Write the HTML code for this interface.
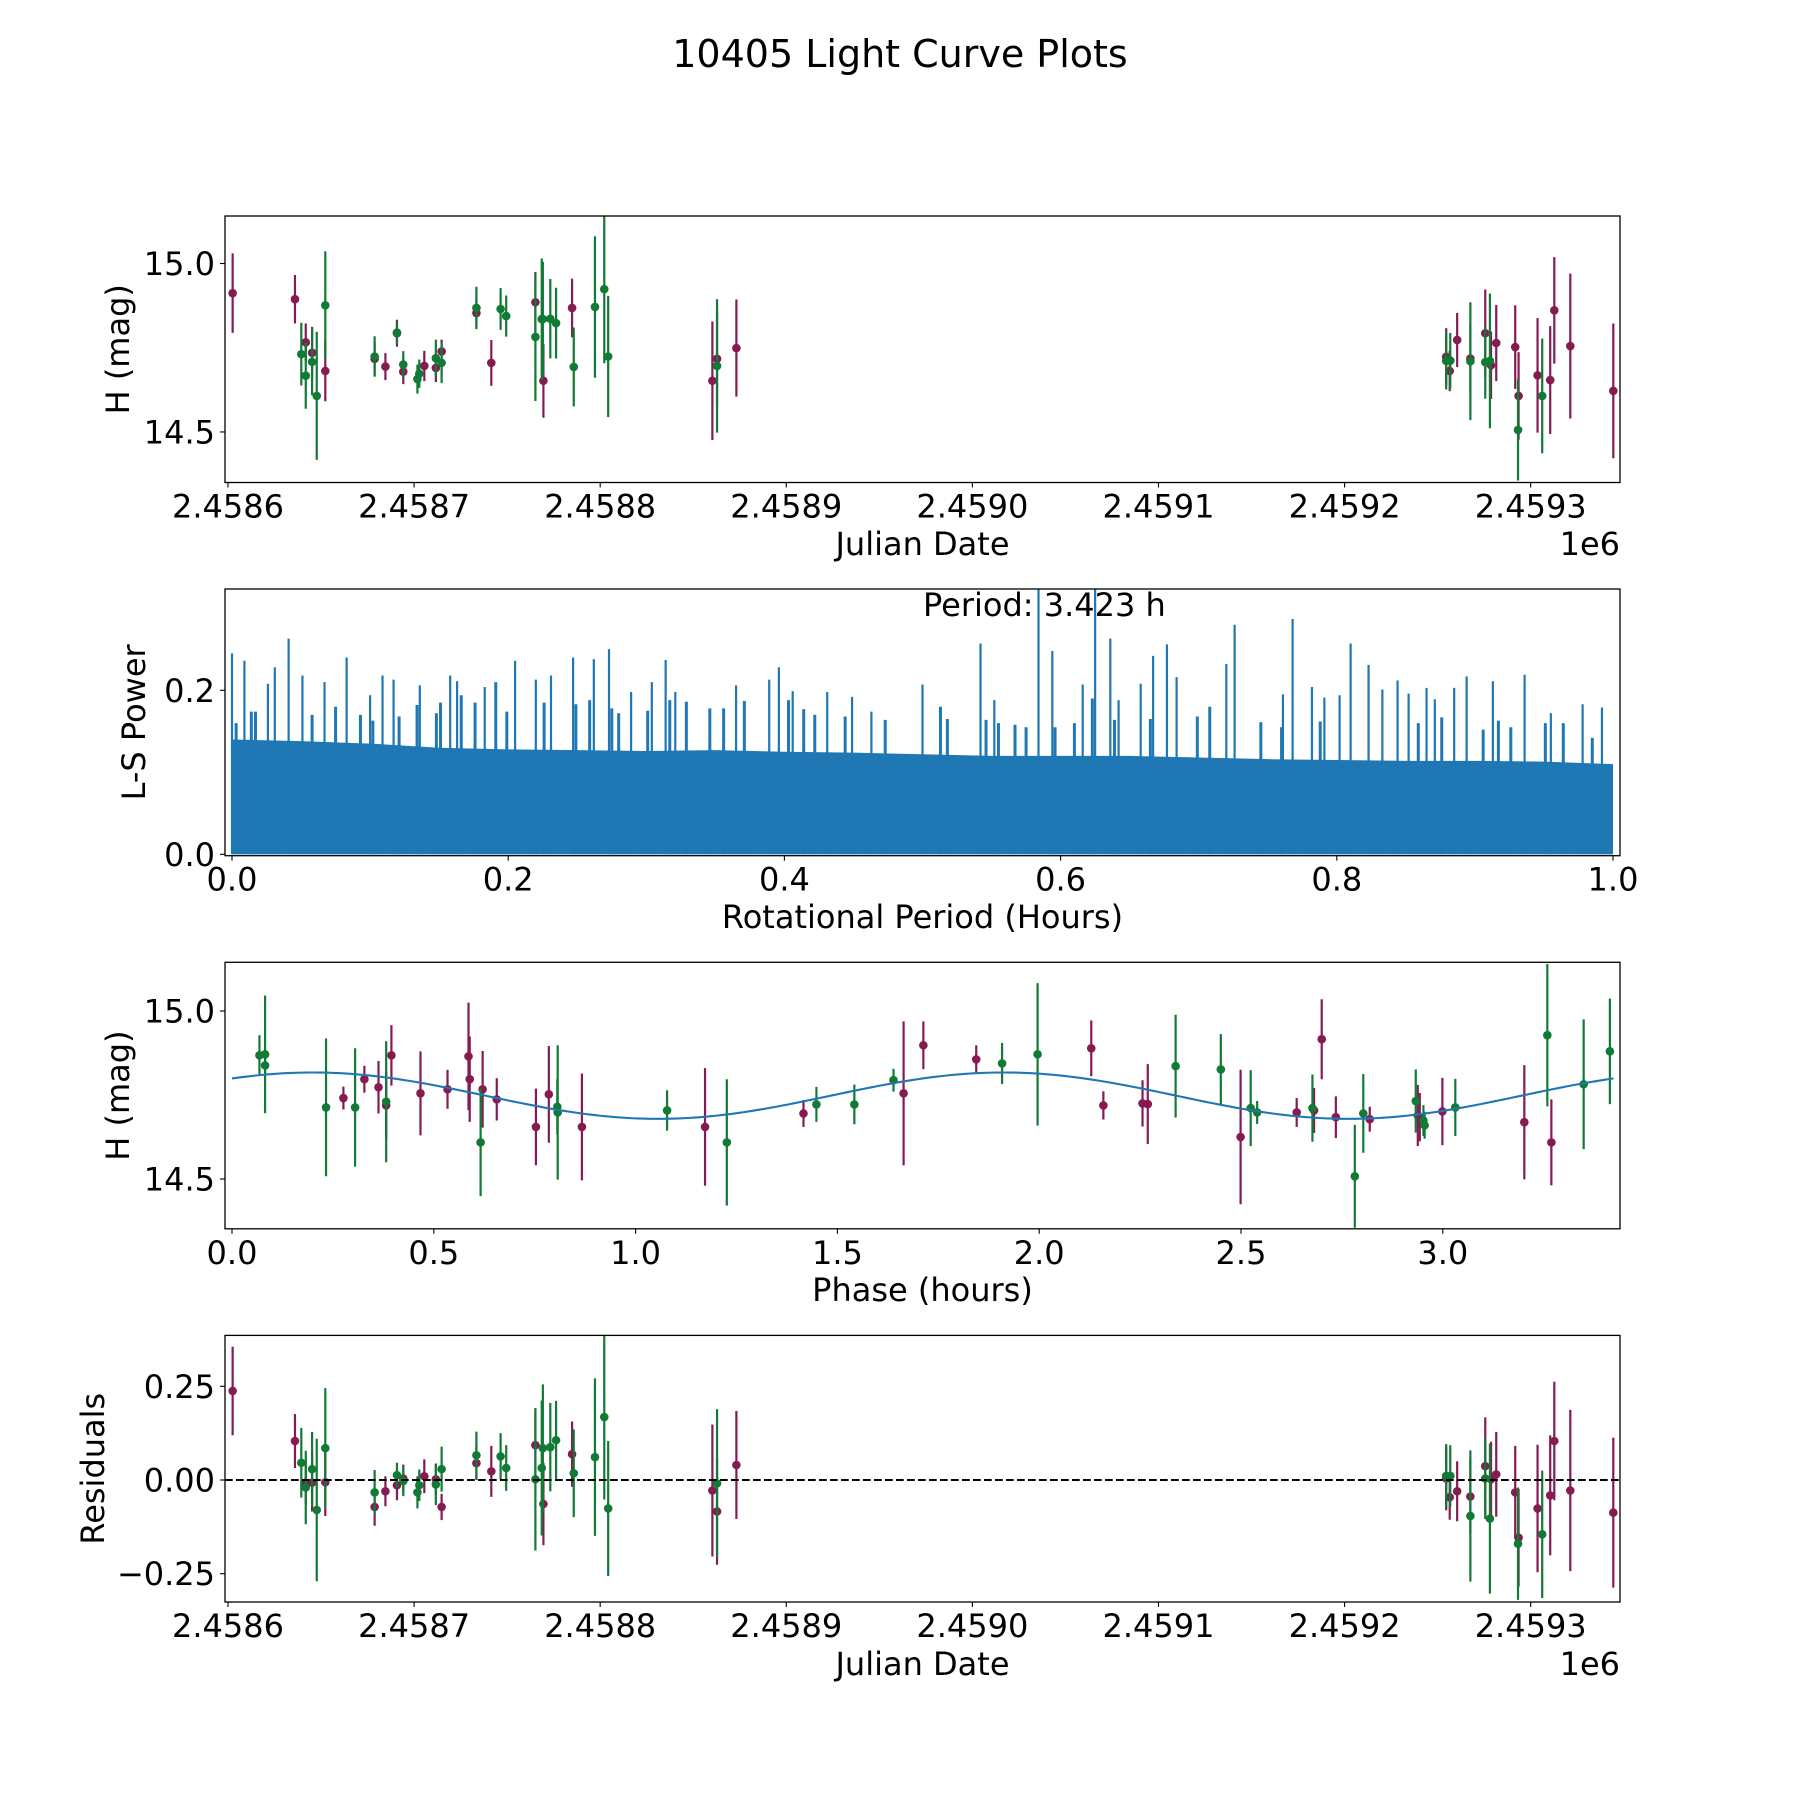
<!DOCTYPE html>
<html><head><meta charset="utf-8">
<style>
html,body{margin:0;padding:0;background:#fff;}
svg{display:block;font-family:"DejaVu Sans","Liberation Sans",sans-serif;}
</style></head>
<body>
<svg id="fig" width="1800" height="1800" viewBox="0 0 1800 1800" xmlns="http://www.w3.org/2000/svg">
<rect width="1800" height="1800" fill="#fff"/>
<text x="900" y="67" font-size="38" text-anchor="middle">10405 Light Curve Plots</text>
<g id="plots"></g>
</svg>
<script>
// ---- Panel 1 / 4 data (JD offset from 2458600) ----
const magJd = [2.5,36,41.8,45.2,52.3,78.8,84.6,90.8,94.2,105.5,111.7,114.8,133.5,141.5,165.2,169.5,184.9,260.3,262.8,273.2,654.6,656.5,660.5,667.6,675.6,678.7,681.5,691.7,693.5,703.7,710.5,712.7,721.3,744.4];
const magMag = [14.912,14.894,14.766,14.735,14.681,14.717,14.694,14.793,14.679,14.696,14.69,14.739,14.853,14.705,14.885,14.652,14.868,14.652,14.717,14.749,14.723,14.681,14.773,14.718,14.793,14.698,14.764,14.752,14.607,14.668,14.654,14.861,14.755,14.622];
const magErr = [0.118,0.072,0.056,0.077,0.09,0.05,0.04,0.04,0.037,0.045,0.042,0.035,0.045,0.068,0.09,0.11,0.087,0.176,0.142,0.144,0.085,0.06,0.08,0.1,0.13,0.1,0.113,0.124,0.13,0.17,0.16,0.158,0.215,0.2];
const magRes = [0.2375,0.104,-0.007,-0.007,-0.006,-0.072,-0.03,-0.014,0.004,0.01,0.002,-0.072,0.045,0.023,0.093,-0.064,0.069,-0.028,-0.084,0.04,0.004,-0.046,-0.03,-0.044,0.037,0.002,0.015,-0.033,-0.154,-0.076,-0.041,0.104,-0.028,-0.087];
const grnJd = [39.4,41.8,45.2,47.7,52.3,78.8,90.8,94.2,101.8,102.8,111.7,114.8,133.5,146.5,149.5,165.2,168.6,169.2,173.2,176.3,185.8,197.2,202.2,204.3,262.8,654.6,656.8,667.6,675.6,678.1,693.2,706.2];
const grnMag = [14.731,14.667,14.708,14.607,14.876,14.724,14.795,14.7,14.657,14.673,14.719,14.705,14.868,14.865,14.844,14.782,14.835,14.835,14.836,14.823,14.693,14.871,14.924,14.724,14.696,14.711,14.712,14.71,14.707,14.711,14.506,14.607];
const grnErr = [0.093,0.098,0.099,0.19,0.16,0.06,0.033,0.04,0.043,0.042,0.055,0.06,0.063,0.062,0.061,0.19,0.18,0.17,0.118,0.105,0.117,0.21,0.22,0.18,0.198,0.085,0.082,0.175,0.108,0.2,0.15,0.17];
const grnRes = [0.046,-0.02,0.029,-0.08,0.085,-0.033,0.013,-0.003,-0.033,-0.014,-0.012,0.029,0.066,0.063,0.032,0.002,0.032,0.085,0.0875,0.106,0.018,0.061,0.168,-0.076,-0.009,0.011,0.011,-0.096,0.004,-0.103,-0.17,-0.145];
const jdTicks = [0,100,200,300,400,500,600,700];
const jdTickLabels = ["2.4586","2.4587","2.4588","2.4589","2.4590","2.4591","2.4592","2.4593"];

// ---- Panel 3 phase data ----
const phM = [0.276,0.328,0.363,0.382,0.395,0.467,0.534,0.586,0.589,0.621,0.656,0.753,0.785,0.867,1.172,1.416,1.664,1.713,1.844,2.129,2.159,2.256,2.269,2.499,2.638,2.681,2.7,2.735,2.819,2.938,2.943,2.999,3.202,3.269];
const phMmag = [14.741,14.797,14.773,14.719,14.868,14.755,14.767,14.865,14.797,14.767,14.737,14.655,14.752,14.655,14.655,14.695,14.755,14.898,14.856,14.889,14.719,14.725,14.723,14.625,14.698,14.704,14.916,14.684,14.678,14.689,14.684,14.701,14.669,14.609];
const phMerr = [0.034,0.04,0.078,0.1,0.09,0.125,0.058,0.16,0.127,0.114,0.063,0.114,0.144,0.159,0.175,0.04,0.214,0.071,0.042,0.083,0.042,0.069,0.119,0.2,0.043,0.067,0.119,0.062,0.037,0.091,0.072,0.1,0.17,0.128];
const phG = [0.068,0.082,0.082,0.233,0.305,0.382,0.616,0.806,0.807,1.078,1.226,1.448,1.542,1.639,1.908,1.996,2.338,2.45,2.524,2.54,2.677,2.782,2.803,2.933,2.952,2.955,3.031,3.259,3.349,3.414];
const phGmag = [14.868,14.871,14.838,14.713,14.713,14.73,14.609,14.715,14.698,14.704,14.609,14.722,14.722,14.794,14.844,14.871,14.836,14.826,14.711,14.698,14.711,14.508,14.695,14.732,14.674,14.66,14.713,14.928,14.782,14.88];
const phGerr = [0.06,0.175,0.03,0.205,0.176,0.18,0.16,0.082,0.2,0.06,0.188,0.052,0.059,0.034,0.061,0.212,0.153,0.105,0.113,0.034,0.1,0.153,0.117,0.094,0.046,0.04,0.085,0.212,0.193,0.157];
const fitMean = 14.748, fitAmp = 0.069, fitPeakPhase = 0.2, fitPeriod = 1.7115;
const phaseTicks = [0,0.5,1,1.5,2,2.5,3];
const phaseTickLabels = ["0.0","0.5","1.0","1.5","2.0","2.5","3.0"];

// ---- Panel 2 periodogram ----
const lsGridX = [0,0.05,0.1,0.15,0.2,0.25,0.3,0.35,0.4,0.45,0.5,0.55,0.6,0.65,0.7,0.75,0.8,0.85,0.9,0.95,1.0];
const lsSolid = [0.085,0.085,0.083,0.082,0.08,0.08,0.078,0.078,0.076,0.076,0.075,0.074,0.072,0.07,0.07,0.068,0.066,0.066,0.065,0.065,0.065];
const lsDense = [0.14,0.138,0.135,0.13,0.128,0.127,0.126,0.127,0.125,0.124,0.122,0.12,0.12,0.12,0.118,0.116,0.115,0.114,0.114,0.113,0.11];
const spikeX = [0.0,0.009,0.026,0.031,0.041,0.051,0.067,0.083,0.1,0.109,0.117,0.136,0.158,0.163,0.183,0.205,0.22,0.231,0.247,0.262,0.273,0.289,0.304,0.314,0.321,0.365,0.389,0.396,0.406,0.431,0.449,0.463,0.5,0.542,0.552,0.584,0.594,0.616,0.625,0.636,0.642,0.658,0.667,0.677,0.684,0.72,0.726,0.761,0.768,0.782,0.791,0.802,0.81,0.823,0.833,0.844,0.852,0.865,0.871,0.885,0.894,0.913,0.936,0.955,0.978,0.992];
const spikeP = [0.245,0.236,0.208,0.228,0.263,0.218,0.21,0.24,0.194,0.218,0.213,0.206,0.218,0.211,0.204,0.236,0.213,0.218,0.24,0.238,0.25,0.198,0.21,0.237,0.198,0.206,0.213,0.228,0.199,0.198,0.192,0.174,0.207,0.257,0.188,0.33,0.248,0.207,0.33,0.263,0.188,0.208,0.242,0.256,0.216,0.232,0.28,0.195,0.287,0.204,0.191,0.194,0.257,0.231,0.201,0.212,0.196,0.203,0.189,0.203,0.217,0.211,0.219,0.172,0.183,0.179];
const midX = [0.003,0.014,0.017,0.058,0.075,0.093,0.102,0.121,0.134,0.148,0.151,0.166,0.176,0.191,0.199,0.226,0.249,0.259,0.275,0.28,0.301,0.317,0.329,0.346,0.356,0.371,0.403,0.414,0.422,0.444,0.473,0.513,0.518,0.546,0.555,0.567,0.575,0.596,0.61,0.623,0.639,0.665,0.699,0.708,0.745,0.76,0.788,0.859,0.876,0.906,0.917,0.926,0.951,0.964,0.985];
const midP = [0.16,0.174,0.174,0.17,0.18,0.17,0.163,0.168,0.182,0.172,0.185,0.194,0.185,0.21,0.174,0.185,0.183,0.188,0.178,0.172,0.175,0.188,0.186,0.178,0.178,0.187,0.188,0.177,0.17,0.168,0.164,0.18,0.165,0.164,0.16,0.158,0.155,0.155,0.16,0.19,0.164,0.165,0.168,0.18,0.161,0.155,0.162,0.16,0.167,0.152,0.163,0.155,0.16,0.16,0.142];
const lsTicks = [0,0.2,0.4,0.6,0.8,1.0];
const lsTickLabels = ["0.0","0.2","0.4","0.6","0.8","1.0"];

const NS = "http://www.w3.org/2000/svg";
const root = document.getElementById('plots');
const MAG = "#861a53", GRN = "#117a35", BLUE = "#1f77b4";
const AX_L = 225, AX_R = 1620;
function el(tag, attrs, parent){ const e=document.createElementNS(NS,tag); for(const k in attrs) e.setAttribute(k,attrs[k]); (parent||root).appendChild(e); return e; }
function lin(d0,d1,r0,r1){ return v => r0 + (v-d0)*(r1-r0)/(d1-d0); }

function frame(g, top, bot){
  const r = el('rect',{x:AX_L,y:top,width:AX_R-AX_L,height:bot-top,fill:'none',stroke:'#000','stroke-width':1.3},g);
  
  
}
function xTicks(g, bot, vals, labels, sx, name){
  vals.forEach((v,i)=>{
    const x = sx(v);
    el('line',{x1:x,x2:x,y1:bot,y2:bot+5,stroke:'#000','stroke-width':1.1},g);
    const t = el('text',{x:x,y:bot+35,'font-size':32,'text-anchor':'middle'},g);
    t.textContent = labels[i];
    
    
  });
}
function yTicks(g, vals, labels, sy, name){
  vals.forEach((v,i)=>{
    const y = sy(v);
    el('line',{x1:AX_L-5,x2:AX_L,y1:y,y2:y,stroke:'#000','stroke-width':1.1},g);
    const t = el('text',{x:AX_L-10,y:y+11.5,'font-size':32,'text-anchor':'end'},g);
    t.textContent = labels[i];
    
    
  });
}
function label(g, txt, x, y, rot, name){
  const t = el('text',{x:x,y:y,'font-size':32,'text-anchor':'middle'},g);
  if(rot) { t.setAttribute('transform','rotate(-90 '+x+' '+y+')'); t.setAttribute('dominant-baseline','central'); }
  t.textContent = txt;
  
  
}
function errPoints(g, xs, ys, es, sx, sy, color, name){
  xs.forEach((xv,i)=>{
    const x=sx(xv);
    const l = el('line',{x1:x,x2:x,y1:sy(ys[i]+es[i]),y2:sy(ys[i]-es[i]),stroke:color,'stroke-width':2.2},g);
    
    
    const c = el('circle',{cx:x,cy:sy(ys[i]),r:4.3,fill:color},g);
    
    
  });
}

// Panel 1
(function(){
  const top=216, bot=482.5;
  const g = el('g',{});
  
  
  const sx = lin(-1.6, 748, AX_L, AX_R);
  const sy = lin(14.35, 15.141, bot, top);
  const clip = el('clipPath',{id:'c1'},g); el('rect',{x:AX_L,y:top,width:AX_R-AX_L,height:bot-top},clip);
  const d = el('g',{'clip-path':'url(#c1)'},g);
  errPoints(d, magJd, magMag, magErr, sx, sy, MAG, 'filter-a');
  errPoints(d, grnJd, grnMag, grnErr, sx, sy, GRN, 'filter-b');
  frame(g, top, bot);
  xTicks(g, bot, jdTicks, jdTickLabels, sx, 'julian-date');
  yTicks(g, [14.5,15.0], ["14.5","15.0"], sy, 'magnitude');
  label(g, 'Julian Date', (AX_L+AX_R)/2, 555, false, 'x-axis-title');
  const o = el('text',{x:AX_R,y:555,'font-size':32,'text-anchor':'end'},g); o.textContent='1e6';
   
  label(g, 'H (mag)', 118, (top+bot)/2, true, 'y-axis-title');
})();

// Panel 2
(function(){
  const top=589, bot=855.7;
  const g = el('g',{});
  
  
  const sx = lin(0, 1, 232, 1613);
  const sy = lin(0, 0.2, 854.3, 690.3);
  const clip = el('clipPath',{id:'c2'},g); el('rect',{x:AX_L,y:top,width:AX_R-AX_L,height:bot-top},clip);
  const d = el('g',{'clip-path':'url(#c2)'},g);
  let pd = 'M'+sx(lsGridX[0])+','+sy(0);
  lsGridX.forEach((x,i)=>{ pd += ' L'+sx(x)+','+sy(lsDense[i]); });
  pd += ' L'+sx(1)+','+sy(0)+' Z';
  const dense = el('path',{d:pd,fill:BLUE},d);
   
  let ps = 'M'+sx(lsGridX[0])+','+sy(0);
  lsGridX.forEach((x,i)=>{ ps += ' L'+sx(x)+','+sy(lsSolid[i]); });
  ps += ' L'+sx(1)+','+sy(0)+' Z';
  const solid = el('path',{d:ps,fill:BLUE},d);
   
  midX.forEach((x,i)=>{
    const l = el('line',{x1:sx(x),x2:sx(x),y1:sy(0),y2:sy(midP[i]),stroke:BLUE,'stroke-width':3},d);
     
  });
  spikeX.forEach((x,i)=>{
    const l = el('line',{x1:sx(x),x2:sx(x),y1:sy(0),y2:sy(spikeP[i]),stroke:BLUE,'stroke-width':2.2},d);
     
  });
  frame(g, top, bot);
  xTicks(g, bot, lsTicks, lsTickLabels, sx, 'period');
  yTicks(g, [0,0.2], ["0.0","0.2"], sy, 'power');
  label(g, 'Rotational Period (Hours)', (AX_L+AX_R)/2, 928, false, 'x-axis-title');
  label(g, 'L-S Power', 134, (top+bot)/2, true, 'y-axis-title');
  const t = el('text',{x:923,y:616,'font-size':32},g); t.textContent='Period: 3.423 h';
   
})();

// Panel 3
(function(){
  const top=962.3, bot=1228.8;
  const g = el('g',{});
  
  
  const sx = lin(0, 1, 232, 635.6);
  const sy = lin(14.5, 15.0, 1179, 1011);
  const clip = el('clipPath',{id:'c3'},g); el('rect',{x:AX_L,y:top,width:AX_R-AX_L,height:bot-top},clip);
  const d = el('g',{'clip-path':'url(#c3)'},g);
  errPoints(d, phM, phMmag, phMerr, sx, sy, MAG, 'filter-a');
  errPoints(d, phG, phGmag, phGerr, sx, sy, GRN, 'filter-b');
  let p='';
  for(let i=0;i<=300;i++){ const ph=3.423*i/300; const m=fitMean+fitAmp*Math.cos(2*Math.PI*(ph-fitPeakPhase)/fitPeriod); p+=(i?' L':'M')+sx(ph).toFixed(2)+','+sy(m).toFixed(2); }
  const fit = el('path',{d:p,fill:'none',stroke:BLUE,'stroke-width':2.1},d);
   
  frame(g, top, bot);
  xTicks(g, bot, phaseTicks, phaseTickLabels, sx, 'phase');
  yTicks(g, [14.5,15.0], ["14.5","15.0"], sy, 'magnitude');
  label(g, 'Phase (hours)', (AX_L+AX_R)/2, 1301, false, 'x-axis-title');
  label(g, 'H (mag)', 118, (top+bot)/2, true, 'y-axis-title');
})();

// Panel 4
(function(){
  const top=1335.4, bot=1602;
  const g = el('g',{});
  
  
  const sx = lin(-1.6, 748, AX_L, AX_R);
  const sy = lin(0, 0.25, 1480, 1386.3);
  const clip = el('clipPath',{id:'c4'},g); el('rect',{x:AX_L,y:top,width:AX_R-AX_L,height:bot-top},clip);
  const d = el('g',{'clip-path':'url(#c4)'},g);
  errPoints(d, magJd, magRes, magErr, sx, sy, MAG, 'filter-a');
  errPoints(d, grnJd, grnRes, grnErr, sx, sy, GRN, 'filter-b');
  const z = el('line',{x1:AX_L,x2:AX_R,y1:sy(0),y2:sy(0),stroke:'#000','stroke-width':2.1,'stroke-dasharray':'7.7,3.3'},d);
   
  frame(g, top, bot);
  xTicks(g, bot, jdTicks, jdTickLabels, sx, 'julian-date');
  yTicks(g, [-0.25,0,0.25], ["\u22120.25","0.00","0.25"], sy, 'residual');
  label(g, 'Julian Date', (AX_L+AX_R)/2, 1675, false, 'x-axis-title');
  const o = el('text',{x:AX_R,y:1675,'font-size':32,'text-anchor':'end'},g); o.textContent='1e6';
   
  label(g, 'Residuals', 93, (top+bot)/2, true, 'y-axis-title');
})();
</script>
</body></html>
